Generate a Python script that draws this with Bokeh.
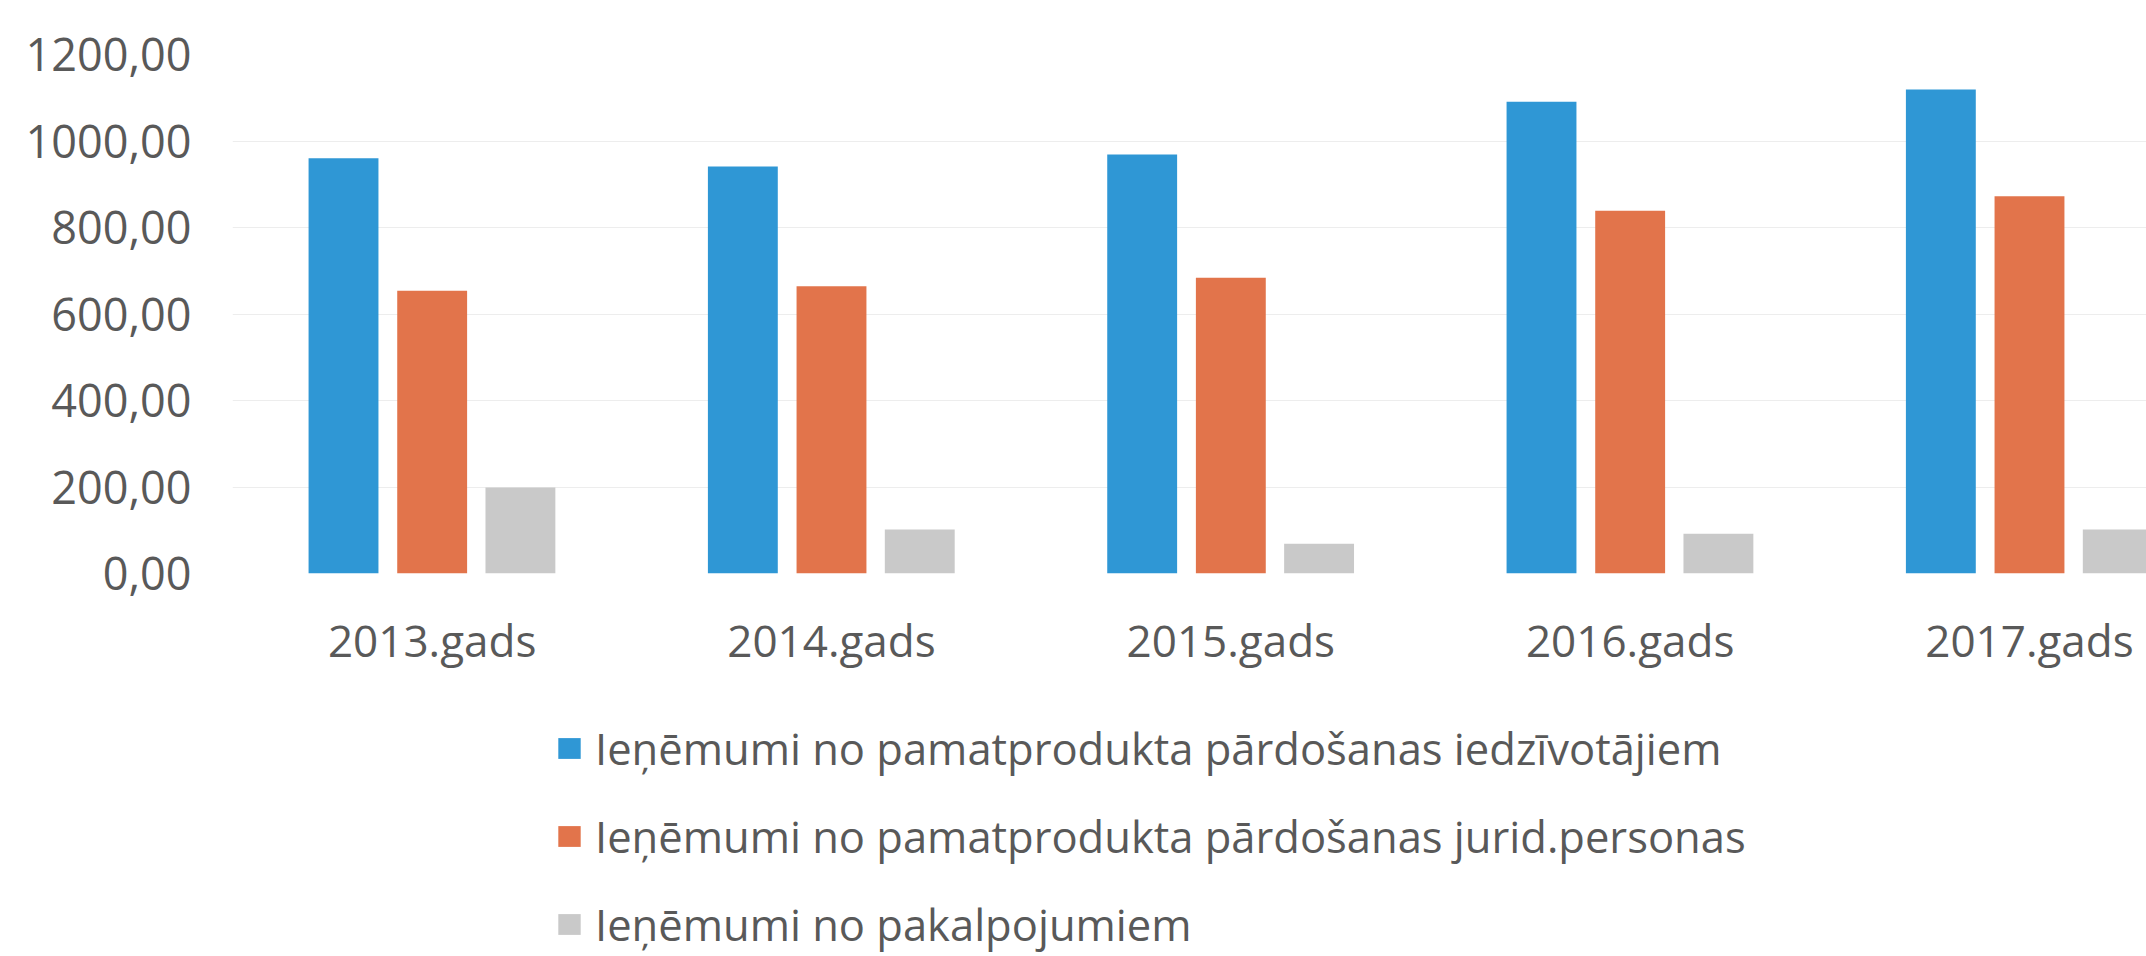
from bokeh.plotting import figure
from bokeh.layouts import column
from bokeh.models import Range1d, FixedTicker, Legend, LegendItem, ColumnDataSource
from bokeh.transform import dodge
from bokeh.embed import file_html
from bokeh.resources import INLINE

years = ["2013.gads", "2014.gads", "2015.gads", "2016.gads", "2017.gads"]
series_names = [
    "Ieņēmumi no pamatprodukta pārdošanas iedzīvotājiem",
    "Ieņēmumi no pamatprodukta pārdošanas jurid.personas",
    "Ieņēmumi no pakalpojumiem",
]
iedzivotajiem = [960, 941, 969, 1091, 1119]
jurid_personas = [654, 664, 684, 839, 872]
pakalpojumi = [199, 102, 69, 92, 102]
y_ticks = [0, 200, 400, 600, 800, 1000, 1200]

colors = ["#2F97D5", "#E2744B", "#C9C9C9"]
FONT = "Open Sans"
TXT = "#595959"
W = 2146
H_MAIN = 690
H_LEG = 956 - H_MAIN

src = ColumnDataSource(dict(
    x=list(range(len(years))),
    a=iedzivotajiem,
    b=jurid_personas,
    c=pakalpojumi,
))

p = figure(
    width=W, height=H_MAIN,
    x_range=Range1d(-0.5, 4.293), y_range=Range1d(0, 1200),
    output_backend="svg", toolbar_location=None,
    min_border_left=232, min_border_right=0, min_border_top=54,
    min_border_bottom=H_MAIN - 573,
)
p.outline_line_color = None
p.background_fill_color = "white"

offs = [-0.222, 0.0, 0.221]
cols = ["a", "b", "c"]
for off, col, c in zip(offs, cols, colors):
    p.vbar(x=dodge("x", off, range=p.x_range), top=col, bottom=0, width=0.175,
           source=src, fill_color=c, line_color=None)

p.xgrid.grid_line_color = None
p.ygrid.grid_line_color = "#EDEDED"
p.ygrid.grid_line_width = 1

p.yaxis.ticker = FixedTicker(ticks=y_ticks)
p.yaxis.major_label_overrides = {t: f"{t:.2f}".replace(".", ",") for t in y_ticks}
p.xaxis.ticker = FixedTicker(ticks=list(range(len(years))))
p.xaxis.major_label_overrides = {i: y for i, y in enumerate(years)}

for ax in (p.xaxis[0], p.yaxis[0]):
    ax.axis_line_color = None
    ax.major_tick_line_color = None
    ax.minor_tick_line_color = None
    ax.major_tick_out = 0
    ax.major_tick_in = 0
    ax.major_label_text_font = FONT
    ax.major_label_text_color = TXT
p.yaxis.major_label_text_font_size = "45px"
p.xaxis.major_label_text_font_size = "44px"
p.yaxis.major_label_standoff = 41
p.xaxis.major_label_standoff = 36

# legend panel below the chart (its frame is aligned with the chart's frame);
# its bars lie outside its ranges, only their legend swatches show
q = figure(
    width=W, height=H_LEG,
    x_range=Range1d(100, 101), y_range=Range1d(5000, 6000),
    x_axis_type=None, y_axis_type=None,
    output_backend="svg", toolbar_location=None,
    min_border=0,
)
q.outline_line_color = None
q.xgrid.grid_line_color = None
q.ygrid.grid_line_color = None
leg_rends = []
for col, c in zip(cols, colors):
    r = q.vbar(x="x", top=col, bottom=0, width=0.175, source=src,
               fill_color=c, line_color=None)
    leg_rends.append(r)

legend = Legend(
    items=[LegendItem(label=n, renderers=[r]) for n, r in zip(series_names, leg_rends)],
    location=(323, -12),
    orientation="vertical",
    glyph_width=28, glyph_height=26,
    label_height=88, spacing=0, padding=0, margin=0,
    label_standoff=12,
    label_text_font=FONT, label_text_font_size="43.5px", label_text_color=TXT,
    border_line_color=None, background_fill_alpha=0,
)
q.add_layout(legend, "center")

layout = column(p, q, spacing=0)
open("out.html", "w").write(file_html(layout, INLINE))
